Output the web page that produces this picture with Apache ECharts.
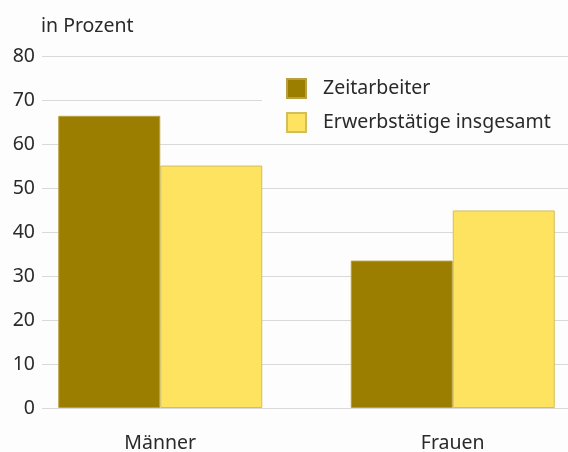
<!DOCTYPE html>
<html>
<head>
<meta charset="utf-8">
<script src="https://cdn.jsdelivr.net/npm/echarts@6/dist/echarts.min.js"></script>
<style>
  html, body { margin: 0; padding: 0; background: #fdfdfd; }
  #main { width: 568px; height: 452px; }
</style>
</head>
<body>
<div id="main"></div>
<script>
// Daten
const categories = ['Männer', 'Frauen']
const seriesNames = ['Zeitarbeiter', 'Erwerbstätige insgesamt']
const zeitarbeiter = [66.4, 33.5]
const erwerbstaetige = [55.1, 44.9]
const yTicks = [0, 80, 10] // min, max, interval

const font = '"Noto Sans", "DejaVu Sans", sans-serif'
const fs = 19.5

const myChart = echarts.init(document.getElementById('main'))

const option = {
  backgroundColor: '#fdfdfd',
  animation: false,
  title: {
    text: 'in Prozent',
    left: 36,
    top: 11,
    textStyle: { fontFamily: font, fontSize: fs, fontWeight: 'normal', color: '#2a2a2a' }
  },
  legend: {
    data: seriesNames,
    orient: 'vertical',
    left: 262,
    top: 60,
    padding: [18, 60, 10, 24],
    backgroundColor: '#fdfdfd',
    itemWidth: 19,
    itemHeight: 19,
    itemGap: 13,
    icon: 'rect',
    textStyle: { fontFamily: font, fontSize: fs, lineHeight: 19, color: '#2a2a2a', padding: [0, 0, 0, 12] }
  },
  grid: [
    // Raster mit y-Achse
    { left: 42, right: 0, top: 56, bottom: 44, outerBoundsMode: 'none' },
    // Balken
    { left: 14, width: 585, top: 56, bottom: 44, outerBoundsMode: 'none' }
  ],
  xAxis: [
    { type: 'value', gridIndex: 0, show: false, min: 0, max: 1 },
    {
      type: 'category',
      gridIndex: 1,
      data: categories,
      axisLine: { show: false },
      axisTick: { show: false },
      axisLabel: { fontFamily: font, fontSize: fs, color: '#2a2a2a', margin: 25 }
    }
  ],
  yAxis: [
    {
      type: 'value',
      gridIndex: 0,
      min: yTicks[0],
      max: yTicks[1],
      interval: yTicks[2],
      axisLine: { show: false },
      axisTick: { show: false },
      axisLabel: { fontFamily: font, fontSize: fs, color: '#2a2a2a', margin: 7 },
      splitLine: { lineStyle: { color: '#d9d9d9', width: 1 } }
    },
    {
      type: 'value',
      gridIndex: 1,
      min: yTicks[0],
      max: yTicks[1],
      interval: yTicks[2],
      show: false
    }
  ],
  series: [
    {
      name: seriesNames[0],
      type: 'bar',
      xAxisIndex: 1,
      yAxisIndex: 1,
      data: zeitarbeiter,
      barWidth: 102,
      barGap: '0%',
      itemStyle: { color: '#9b7e00', borderColor: '#b8a040', borderWidth: 1 }
    },
    {
      name: seriesNames[1],
      type: 'bar',
      xAxisIndex: 1,
      yAxisIndex: 1,
      data: erwerbstaetige,
      barWidth: 102,
      barGap: '0%',
      itemStyle: { color: '#fde35f', borderColor: '#d2bf5c', borderWidth: 1 }
    }
  ]
}

myChart.setOption(option)
</script>
</body>
</html>
